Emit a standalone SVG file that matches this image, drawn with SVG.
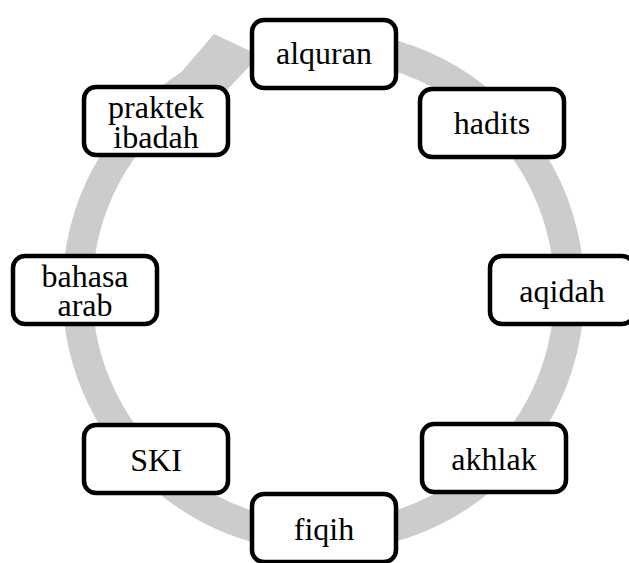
<svg xmlns="http://www.w3.org/2000/svg" width="629" height="563" viewBox="0 0 629 563">
<style>
.box{fill:#fff;stroke:#000;stroke-width:4.5}
.t{font-family:"Liberation Serif","Times New Roman",serif;font-size:32px;fill:#000;text-anchor:middle}
.ring{fill:none;stroke:#cccccc;stroke-width:30}
.head{fill:#cccccc}
</style>
<rect width="629" height="563" fill="#fff"/>
<g id="connectors">
<path class="ring" d="M 280.8 48.7 A 246 246 0 1 1 204.2 75.8"/>
<polygon class="head" points="181.4,72.1 214,34 259.6,55.4 226,91 197.7,97.3"/>
</g>
<g id="alquran"><rect class="box" x="252" y="20" width="144" height="68" rx="12"/><text class="t" x="324" y="64">alquran</text></g>
<g id="hadits"><rect class="box" x="420" y="89" width="144" height="68" rx="12"/><text class="t" x="492" y="134">hadits</text></g>
<g id="aqidah"><rect class="box" x="490" y="256" width="144" height="68" rx="12"/><text class="t" x="562" y="302">aqidah</text></g>
<g id="akhlak"><rect class="box" x="422" y="424" width="144" height="68" rx="12"/><text class="t" x="494" y="470">akhlak</text></g>
<g id="fiqih"><rect class="box" x="252" y="494" width="144" height="68" rx="12"/><text class="t" x="324" y="540">fiqih</text></g>
<g id="ski"><rect class="box" x="84" y="425" width="144" height="68" rx="12"/><text class="t" x="156" y="471">SKI</text></g>
<g id="bahasa-arab"><rect class="box" x="13" y="256" width="144" height="68" rx="12"/><text class="t" x="85" y="286.5">bahasa</text><text class="t" x="85" y="316">arab</text></g>
<g id="praktek-ibadah"><rect class="box" x="84" y="87" width="144" height="68" rx="12"/><text class="t" x="156" y="118">praktek</text><text class="t" x="156" y="148">ibadah</text></g>
</svg>
